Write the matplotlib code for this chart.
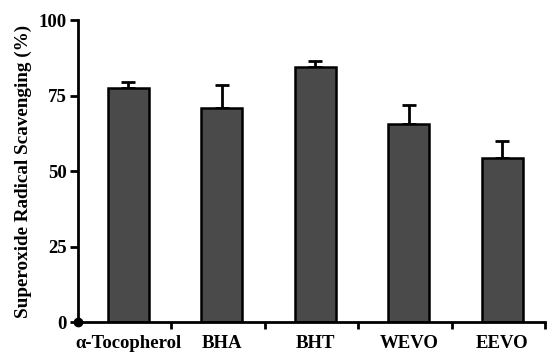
import numpy as np
import matplotlib
matplotlib.use("Agg")
import matplotlib.pyplot as plt

categories = ["\u03b1-Tocopherol", "BHA", "BHT", "WEVO", "EEVO"]
values = [77.4, 71.0, 84.3, 65.5, 54.4]
errors = [2.2, 7.4, 2.1, 6.4, 5.6]
yticks = [0, 25, 50, 75, 100]

plt.rcParams['font.family'] = ['Liberation Serif', 'DejaVu Serif']
plt.rcParams['font.weight'] = 'bold'

fig = plt.figure(figsize=(5.49, 3.52), dpi=100)
ax = fig.add_axes([0.142, 0.085, 0.851, 0.858])

x = np.arange(len(categories))
xb = x + 0.04
ax.bar(xb, values, width=0.44, color='#4a4a4a', edgecolor='black', linewidth=1.8, zorder=2)
ax.errorbar(xb, values, yerr=[np.zeros(len(errors)), errors], fmt='none',
            ecolor='black', elinewidth=2, capsize=5, capthick=2, zorder=1)

ax.set_xlim(-0.5, 4.5)
ax.set_ylim(0, 100)
ax.set_yticks(yticks)
ax.set_yticklabels([str(t) for t in yticks], fontsize=13.5, fontweight='bold')
ax.set_xticks(xb)
ax.set_xticklabels(categories, fontsize=13.5, fontweight='bold')
ax.tick_params(axis='x', which='major', length=0, pad=9)
ax.set_xticks(np.arange(0.5, 5, 1), minor=True)
ax.tick_params(axis='x', which='minor', length=5, width=2, direction='out')
ax.tick_params(axis='y', length=6, width=2, direction='out', pad=2)

for s in ['top', 'right']:
    ax.spines[s].set_visible(False)
for s in ['left', 'bottom']:
    ax.spines[s].set_linewidth(2)

ax.plot([-0.5], [0], 'o', color='black', markersize=6, clip_on=False, zorder=5)
ax.set_ylabel("Superoxide Radical Scavenging (%)", fontsize=13.8, fontweight='bold', labelpad=5)

fig.savefig("out.png", dpi=100)
